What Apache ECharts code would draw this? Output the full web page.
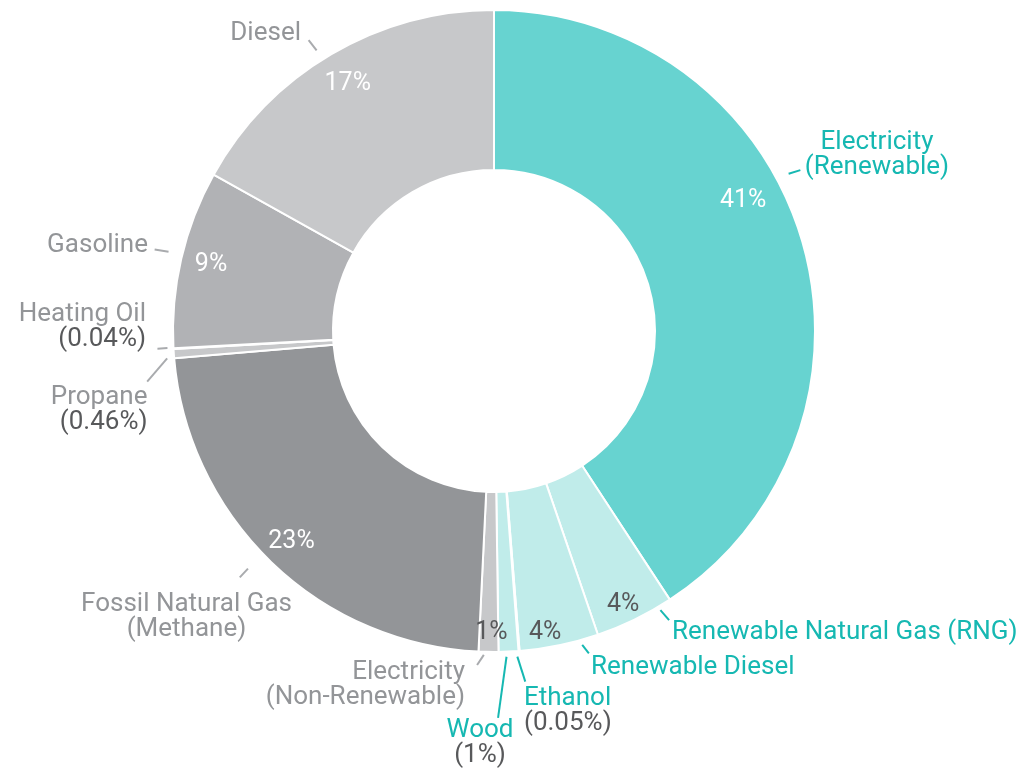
<!DOCTYPE html>
<html>
<head>
<meta charset="utf-8">
<script src="https://cdn.jsdelivr.net/npm/echarts@6/dist/echarts.min.js"></script>
<style>
  html, body { margin: 0; padding: 0; background: #ffffff; }
  #chart { width: 1019px; height: 770px; }
</style>
</head>
<body>
<div id="chart"></div>
<script>
// ---- data ----
const categories = [
  'Electricity (Renewable)', 'Renewable Natural Gas (RNG)', 'Renewable Diesel', 'Ethanol', 'Wood',
  'Electricity (Non-Renewable)', 'Fossil Natural Gas (Methane)', 'Propane', 'Heating Oil', 'Gasoline', 'Diesel'
];
const labelNames = [
  'Electricity\n(Renewable)', 'Renewable Natural Gas (RNG)', 'Renewable Diesel', 'Ethanol', 'Wood',
  'Electricity\n(Non-Renewable)', 'Fossil Natural Gas\n(Methane)', 'Propane', 'Heating Oil', 'Gasoline', 'Diesel'
];
const shares = [41, 4, 4, 0.05, 1, 1, 23, 0.46, 0.04, 9, 17];
const isRenewable = [true, true, true, true, true, false, false, false, false, false, false];
const shareShownInside = [true, true, true, false, false, true, true, false, false, true, true];

// ---- styles ----
const FONT = 'Roboto, "Noto Sans", sans-serif';
const TEAL_TEXT = '#16b8b2';
const GRAY_TEXT = '#939598';
const DARK_TEXT = '#58595b';
const sliceColors = ['#67d3d0', '#c0ecea', '#c0ecea', '#c0ecea', '#c0ecea',
                     '#c7c8ca', '#939598', '#c7c8ca', '#c7c8ca', '#b1b2b5', '#c7c8ca'];
const shareInk = ['#ffffff', DARK_TEXT, DARK_TEXT, DARK_TEXT, DARK_TEXT,
                  DARK_TEXT, '#ffffff', DARK_TEXT, DARK_TEXT, '#ffffff', '#ffffff'];

// ---- layout ----
const CX = 494, CY = 331, R_IN = 161, R_OUT = 321;
const TEXT_DROP = 2;   // glyph middle sits a little above the canvas 'middle' line
// percent labels inside the ring: [angle clockwise from 12 o'clock, radius]
const shareLabelPolar = [
  [62.1, 282], [154.6, 301], [170.3, 304], null, null, [180.5, 300],
  [224.1, 291], null, null, [283.5, 291], [329.6, 289]
];
// name labels: anchor x, anchor y (block middle), alignment
const nameLabelAnchor = [
  [877, 153, 'center'], [672, 630, 'left'], [591, 665, 'left'], [524, 708.5, 'left'],
  [480, 741, 'center'], [465, 682.5, 'right'], [186.5, 615, 'center'], [147.5, 407.5, 'right'],
  [146, 325, 'right'], [148, 243.5, 'right'], [301, 31.3, 'right']
];
// leader ticks: [angle0, radius0, angle1, radius1]
const leaderTicks = [
  [61.9, 334, 62.3, 346], [149.2, 325, 148.8, 338], [164.3, 326, 163.6, 336],
  [175.9, 326.5, 174.9, 352], [177.8, 326, 179.4, 387], [181.8, 324, 182.9, 334.5],
  [226.0, 342, 225.9, 354], [265.2, 328, 261.7, 350.5], [267, 327, 267, 337],
  [283.7, 335, 283.5, 349], [327.7, 332, 327.5, 345]
];

function polar(deg, r) {
  const a = deg * Math.PI / 180;
  return [CX + r * Math.sin(a), CY - r * Math.cos(a)];
}

function richFor(align) {
  const base = { fontFamily: FONT, fontSize: 26, lineHeight: 25, align: align };
  return {
    teal: Object.assign({ color: TEAL_TEXT }, base),
    gray: Object.assign({ color: GRAY_TEXT }, base),
    pct: Object.assign({ color: DARK_TEXT }, base)
  };
}

function nameText(i) {
  const tone = isRenewable[i] ? 'teal' : 'gray';
  const lines = labelNames[i].split('\n').map(function (l) { return '{' + tone + '|' + l + '}'; });
  if (!shareShownInside[i]) lines.push('{pct|(' + shares[i] + '%)}');
  return lines.join('\n');
}

const chart = echarts.init(document.getElementById('chart'), null, { renderer: 'canvas' });

chart.setOption({
  backgroundColor: '#ffffff',
  animation: false,
  series: [
    {
      // the ring with its share labels
      type: 'pie',
      center: [CX, CY],
      radius: [R_IN, R_OUT],
      startAngle: 90,
      clockwise: true,
      avoidLabelOverlap: false,
      silent: true,
      itemStyle: { borderColor: '#ffffff', borderWidth: 2 },
      label: {
        show: true,
        position: 'inside',
        fontFamily: FONT,
        fontSize: 25,
        formatter: function (p) {
          return shareShownInside[p.dataIndex] ? shares[p.dataIndex] + '%' : '';
        }
      },
      labelLine: { show: false },
      labelLayout: function (p) {
        const s = shareLabelPolar[p.dataIndex];
        if (!s) return {};
        const pt = polar(s[0], s[1]);
        return { x: pt[0], y: pt[1] + TEXT_DROP, align: 'center', verticalAlign: 'middle' };
      },
      data: shares.map(function (v, i) {
        return {
          name: categories[i],
          value: v,
          itemStyle: { color: sliceColors[i] },
          label: { color: shareInk[i] }
        };
      })
    },
    {
      // category names with short leader ticks
      type: 'pie',
      center: [CX, CY],
      radius: [R_IN, R_OUT],
      startAngle: 90,
      clockwise: true,
      avoidLabelOverlap: false,
      silent: true,
      itemStyle: { color: 'rgba(0,0,0,0)', borderWidth: 0 },
      label: {
        show: true,
        position: 'outside',
        formatter: function (p) { return nameText(p.dataIndex); }
      },
      labelLine: { show: true, length: 12, length2: 0, smooth: false, lineStyle: { width: 2 } },
      labelLayout: function (p) {
        const i = p.dataIndex;
        const a = nameLabelAnchor[i];
        const t = leaderTicks[i];
        return {
          x: a[0], y: a[1] + TEXT_DROP, align: a[2], verticalAlign: 'middle',
          labelLinePoints: [polar(t[0], t[1]), polar(t[2], t[3])]
        };
      },
      data: shares.map(function (v, i) {
        return {
          name: categories[i],
          value: v,
          label: { rich: richFor(nameLabelAnchor[i][2]) },
          labelLine: { lineStyle: { color: isRenewable[i] ? TEAL_TEXT : '#a9abae' } }
        };
      })
    }
  ]
});
</script>
</body>
</html>
